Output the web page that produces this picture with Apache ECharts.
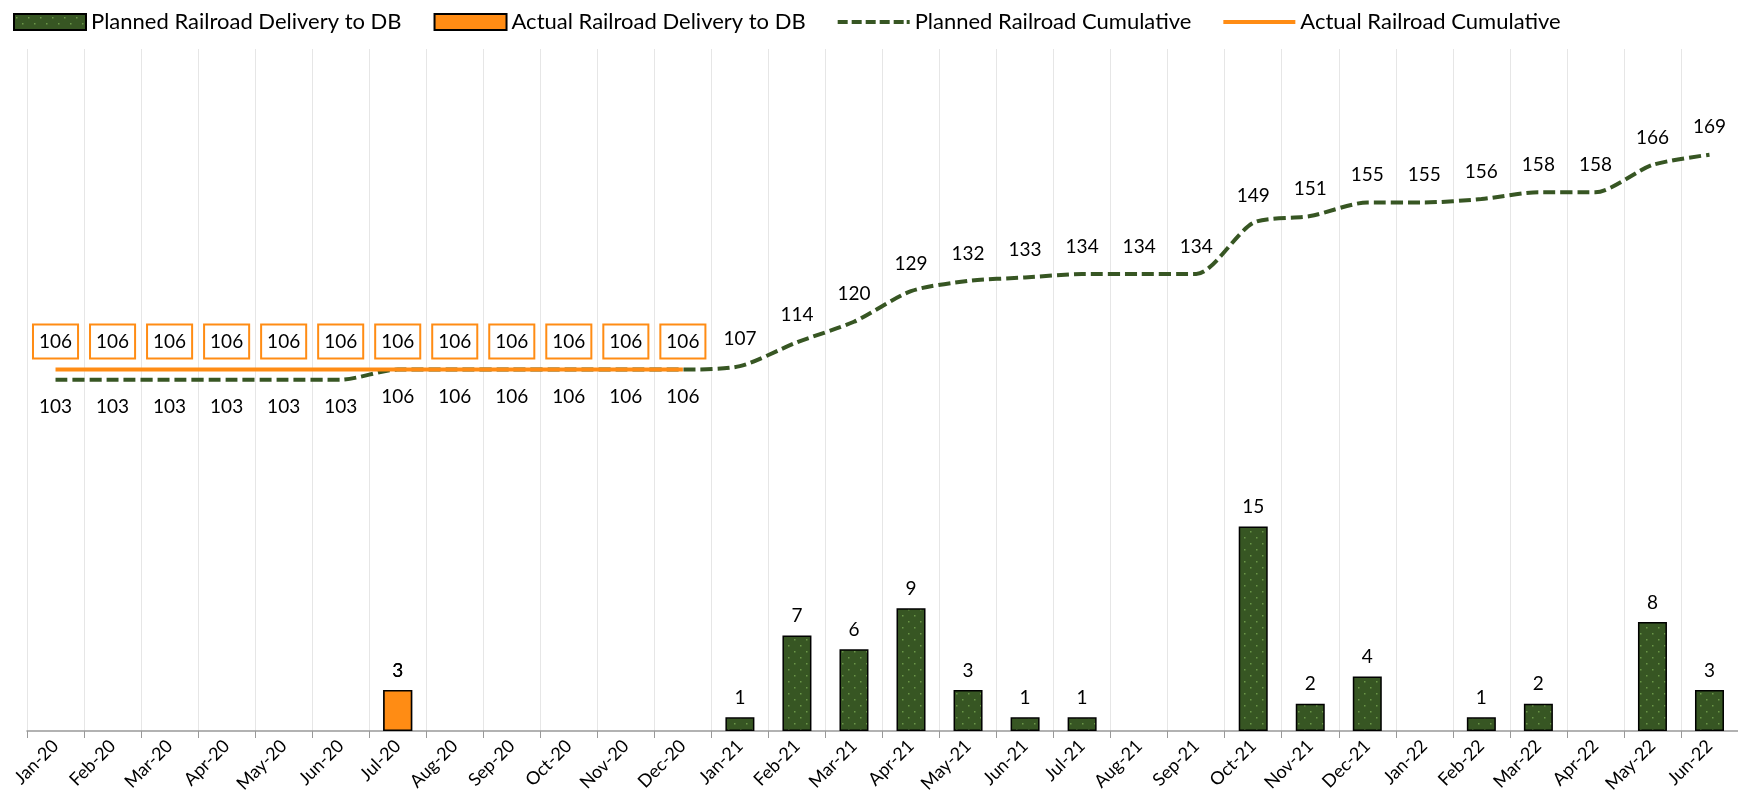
<!DOCTYPE html>
<html>
<head>
<meta charset="utf-8">
<script src="https://cdn.jsdelivr.net/npm/echarts@6/dist/echarts.min.js"></script>
<style>
  html, body { margin: 0; padding: 0; background: #fff; }
  #chart { width: 1738px; height: 804px; }
</style>
</head>
<body>
<div id="chart"></div>
<script>
const months = [
  "Jan-20", "Feb-20", "Mar-20", "Apr-20", "May-20", "Jun-20", "Jul-20", "Aug-20", "Sep-20", "Oct-20",
  "Nov-20", "Dec-20", "Jan-21", "Feb-21", "Mar-21", "Apr-21", "May-21", "Jun-21", "Jul-21", "Aug-21",
  "Sep-21", "Oct-21", "Nov-21", "Dec-21", "Jan-22", "Feb-22", "Mar-22", "Apr-22", "May-22", "Jun-22"
];
const plannedDelivery = [
  null, null, null, null, null, null, 3, null, null, null,
  null, null, 1, 7, 6, 9, 3, 1, 1, null,
  null, 15, 2, 4, null, 1, 2, null, 8, 3
];
const actualDelivery = [
  null, null, null, null, null, null, 3, null, null, null,
  null, null, null, null, null, null, null, null, null, null,
  null, null, null, null, null, null, null, null, null, null
];
const plannedCumulative = [
  103, 103, 103, 103, 103, 103, 106, 106, 106, 106,
  106, 106, 107, 114, 120, 129, 132, 133, 134, 134,
  134, 149, 151, 155, 155, 156, 158, 158, 166, 169
];
const actualCumulative = [
  106, 106, 106, 106, 106, 106, 106, 106, 106, 106,
  106, 106
];

const green = "#375623";
const orange = "#FF8C14";
const font = "Lato";

// legend icons for the two lines (tiny corner squares keep the 72x16 box)
const dashIcon = "path://M0,0h0.1v0.1h-0.1z M0,6h10v4h-10z M14,6h10v4h-10z M28,6h10v4h-10z " +
  "M42,6h10v4h-10z M56,6h10v4h-10z M69,6h3v4h-3z M71.9,15.9h0.1v0.1h-0.1z";
const solidIcon = "path://M0,0h0.1v0.1h-0.1z M0,6h72v4h-72z M71.9,15.9h0.1v0.1h-0.1z";

// dotted fill like the excel pattern
function dotPattern() {
  const c = document.createElement("canvas");
  c.width = 12;
  c.height = 12;
  const ctx = c.getContext("2d");
  ctx.fillStyle = green;
  ctx.fillRect(0, 0, 12, 12);
  ctx.fillStyle = "#6b9648";
  ctx.fillRect(2, 3, 1.5, 1.5);
  ctx.fillRect(8, 9, 1.5, 1.5);
  return c;
}
const greenFill = { image: dotPattern(), repeat: "repeat" };

const chart = echarts.init(document.getElementById("chart"));

const option = {
  animation: false,
  textStyle: { fontFamily: font },
  legend: {
    top: 6,
    left: 8,
    itemGap: 32,
    itemWidth: 72,
    itemHeight: 16,
    textStyle: { fontFamily: font, fontSize: 22, color: "#000" },
    data: [
      { name: "Planned Railroad Delivery to DB", icon: "rect" },
      { name: "Actual Railroad Delivery to DB", icon: "rect" },
      { name: "Planned Railroad Cumulative", icon: dashIcon, itemStyle: { color: green, borderWidth: 0 } },
      { name: "Actual Railroad Cumulative", icon: solidIcon, itemStyle: { color: orange, borderWidth: 0 } }
    ]
  },
  grid: {
    left: 27,
    right: 0,
    top: 49,
    bottom: 73,
    containLabel: false
  },
  xAxis: {
    type: "category",
    data: months,
    boundaryGap: true,
    axisLine: { lineStyle: { color: "#999", width: 1.5 } },
    axisTick: { show: true, length: 7, lineStyle: { color: "#999" } },
    splitLine: { show: true, lineStyle: { color: "#e6e6e6" } },
    axisLabel: {
      rotate: 45,
      interval: 0,
      margin: 12,
      fontFamily: font,
      fontSize: 18,
      color: "#000"
    }
  },
  yAxis: [
    { type: "value", min: 0, max: 50, show: false },
    { type: "value", min: 0, max: 200, show: false }
  ],
  series: [
    {
      name: "Planned Railroad Delivery to DB",
      type: "bar",
      yAxisIndex: 0,
      data: plannedDelivery,
      barWidth: 29,
      barGap: "-100%",
      itemStyle: { color: greenFill, borderColor: "#000", borderWidth: 1.5 },
      label: {
        show: true,
        position: "top",
        distance: 10,
        fontFamily: font,
        fontSize: 19,
        color: "#000"
      }
    },
    {
      name: "Actual Railroad Delivery to DB",
      type: "bar",
      yAxisIndex: 0,
      data: actualDelivery,
      barWidth: 29,
      barGap: "-100%",
      itemStyle: { color: orange, borderColor: "#000", borderWidth: 1.5 },
      label: {
        show: true,
        position: "top",
        distance: 10,
        fontFamily: font,
        fontSize: 19,
        color: "#000"
      }
    },
    {
      name: "Planned Railroad Cumulative",
      type: "line",
      yAxisIndex: 1,
      data: plannedCumulative.map((v, i) => ({
        value: v,
        label: { position: i < 12 ? "bottom" : "top" }
      })),
      smooth: 0.25,
      symbol: "circle",
      symbolSize: 0,
      color: green,
      lineStyle: { color: green, width: 4, type: [12, 5] },
      label: {
        show: true,
        distance: 18,
        fontFamily: font,
        fontSize: 19,
        color: "#000"
      },
      z: 3
    },
    {
      name: "Actual Railroad Cumulative",
      type: "line",
      yAxisIndex: 1,
      data: actualCumulative,
      symbol: "circle",
      symbolSize: 0,
      color: orange,
      lineStyle: { color: orange, width: 4 },
      label: {
        show: true,
        position: "top",
        distance: 12,
        fontFamily: font,
        fontSize: 19,
        color: "#000",
        backgroundColor: "#fff",
        borderColor: orange,
        borderWidth: 2,
        padding: [7, 5, 6, 5]
      },
      z: 4
    }
  ]
};

chart.setOption(option);
window.addEventListener("resize", function () {
  chart.resize();
});
</script>
</body>
</html>
